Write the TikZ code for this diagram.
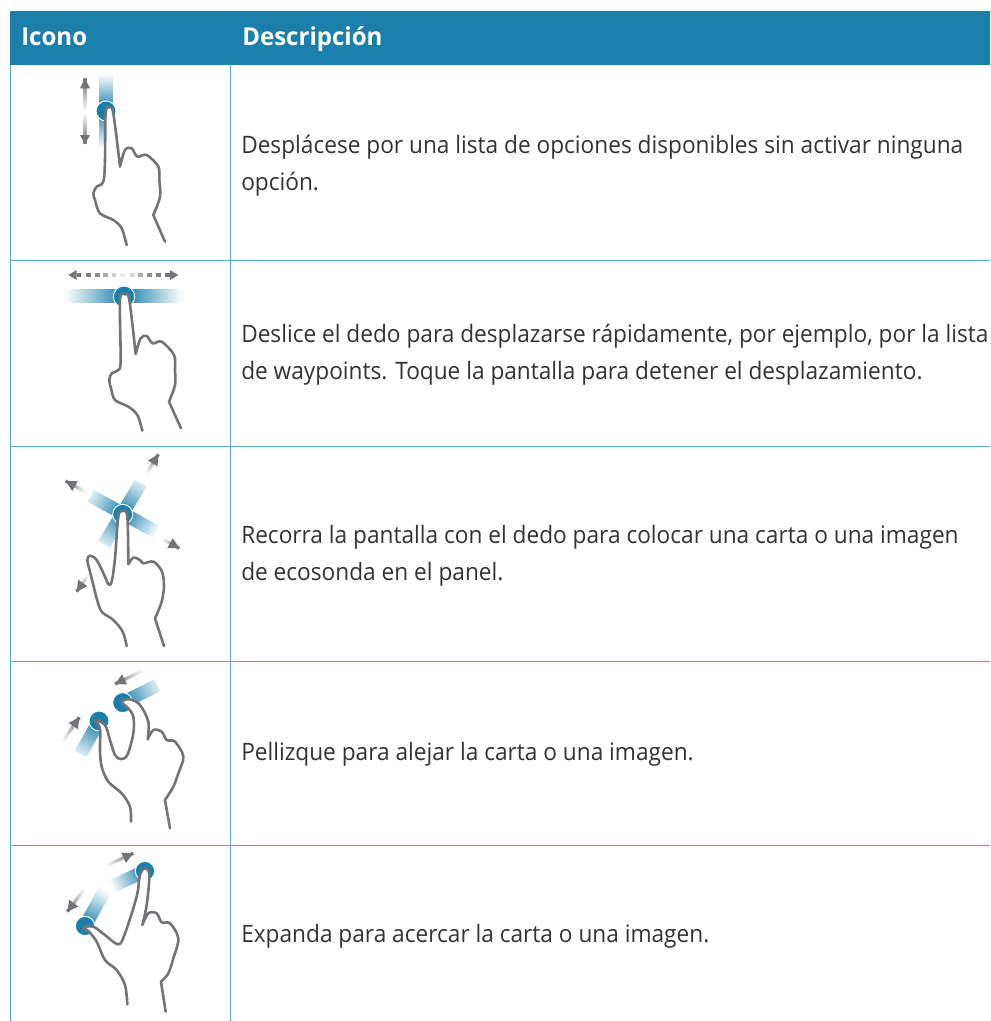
\documentclass[tikz,border=0pt]{standalone}
\usepackage{fontspec}
\setmainfont{Open Sans}[FakeStretch=0.944]
\newfontfamily\headfont{Open Sans}[FakeStretch=0.975,BoldFont={Open Sans Bold}]
\definecolor{hdr}{HTML}{1A7FAB}
\definecolor{rule}{HTML}{5DA9CB}
\definecolor{tap}{HTML}{1A7FAB}
\definecolor{ink}{HTML}{737477}
\definecolor{txt}{HTML}{333335}
\tikzset{
 x=0.75pt,y=-0.75pt,
 tablerule/.style={draw=rule,line width=0.65pt},
 handline/.style={draw=ink,line width=1.95pt,fill=white,line join=round,line cap=round},
 bodytext/.style={anchor=west,inner sep=0pt,align=left,text=txt,font=\fontsize{18}{27.75}\selectfont},
 headtext/.style={anchor=base west,inner sep=0pt,text=white,font=\headfont\bfseries\fontsize{18.5}{22}\selectfont},
 tapdot/.style={fill=tap,draw=white,line width=0.7pt},
 zoomed/.style={x=0.25pt,y=-0.25pt},
}
% offsets of the icon in use, px
\newcommand{\iconat}[2]{\def\iconx{#1}\def\icony{#2}}
% fading strip: from (x1,y1) to (x2,y2) in zoomed units, half width w, colours c1 c2
\newcommand{\fadestrip}[7]{%
 \pgfmathsetmacro{\stripang}{atan2(-((#4)-(#2)),(#3)-(#1))}%
 \pgfmathsetmacro{\striplen}{veclen((#3)-(#1),(#4)-(#2))*0.25}%
 \pgfmathsetmacro{\striphw}{(#5)*0.25}%
 \pgfmathsetmacro{\stripx}{\iconx*0.75+(#1)*0.25}%
 \pgfmathsetmacro{\stripy}{-\icony*0.75-(#2)*0.25}%
 \begin{scope}[transform canvas={shift={(\stripx pt,\stripy pt)},rotate=\stripang}]
 \pgftransformreset
 \shade[left color=#6,middle color=#6!65!#7,right color=#7] (0pt,-\striphw pt) rectangle (\striplen pt,\striphw pt);
 \end{scope}}
% grey arrow head with tip at (x2,y2), coming from (x1,y1), plus a fading shaft
\newcommand{\fadearrow}[4]{%
 \pgfmathsetmacro{\arrang}{atan2(-((#4)-(#2)),(#3)-(#1))}%
 \fadestrip{#1}{#2}{#3}{#4}{5}{white}{ink}%
 \fill[ink,shift={(#3,#4)},rotate=\arrang] (0,0) -- (-32,-17) -- (-32,17) -- cycle;}
\begin{document}
\begin{tikzpicture}
\useasboundingbox (0,0) rectangle (990,1021);
\clip (0,0) rectangle (990,1021);
\fill[white] (0,0) rectangle (990,1021);
% table
\fill[hdr] (10,11) rectangle (990,65);
\node[headtext] (h1) at (21,45) {Icono};
\node[headtext] (h2) at (242,45) {Descripción};
\coordinate (l0) at (10,65); \coordinate (l1) at (10,1021);
\coordinate (m0) at (230,65); \coordinate (m1) at (230,1021);
\draw[tablerule] (l0) -- (l1);
\draw[tablerule] (m0) -- (m1);
\foreach \yy in {260,446,661,845} \draw[tablerule] (10,\yy) -- (990,\yy);
% texts
\node[bodytext] (t1) at (241,166) {Desplácese por una lista de opciones disponibles sin activar ninguna\\opción.};
\node[bodytext] (t2) at (241,355) {Deslice el dedo para desplazarse rápidamente, por ejemplo, por la lista\\de waypoints. Toque la pantalla para detener el desplazamiento.};
\node[bodytext] (t3) at (241,556) {Recorra la pantalla con el dedo para colocar una carta o una imagen\\de ecosonda en el panel.};
\node[bodytext] (t4) at (241,754) {Pellizque para alejar la carta o una imagen.};
\node[bodytext] (t5) at (241,936) {Expanda para acercar la carta o una imagen.};

% icon 1
\iconat{50}{60}
\begin{scope}[shift={(50,60)},zoomed]
 \fadestrip{105}{155}{105}{55}{5}{white}{ink}
 \fadestrip{105}{155}{105}{250}{5}{white}{ink}
 \fill[ink] (105,55) -- (90,85) -- (120,85) -- cycle;
 \fill[ink] (105,253) -- (90,225) -- (120,225) -- cycle;
 \fadestrip{168}{150}{168}{42}{20}{tap}{white}
 \fadestrip{168}{150}{168}{262}{20}{tap}{white}
 \fill[tapdot] (168,153) circle (30);
 \draw[handline] plot[smooth,tension=.55] coordinates {(230,555) (215,505) (190,480) (150,460) (135,420) (130,400) (140,380) (160,365) (165,300) (167,160) (178,142) (190,160) (210,320)}
  -- plot[smooth,tension=.55] coordinates {(210,320) (225,270) (245,265) (262,290) (290,285) (325,320) (328,360) (330,410) (310,465)}
  -- (345,545);
\end{scope}

% icon 2
\iconat{50}{260}
\begin{scope}[shift={(50,260)},zoomed]
 \fadestrip{225}{108}{45}{108}{20}{tap}{white}
 \fadestrip{225}{108}{395}{108}{20}{tap}{white}
 \fill[ink] (55,45) -- (80,30) -- (80,60) -- cycle;
 \fill[ink] (385,45) -- (360,30) -- (360,60) -- cycle;
 \foreach \px/\op in {80/1,108/.9,135/.8,160/.6,185/.35,210/.12} \fill[ink,opacity=\op] (\px,40) rectangle +(14,10);
 \foreach \px/\op in {345/1,318/.9,292/.8,265/.6,240/.3} \fill[ink,opacity=\op] (\px,40) rectangle +(14,10);
 \fill[tapdot] (222,110) circle (32);
 \draw[handline] plot[smooth,tension=.55] coordinates {(277,512) (262,465) (235,440) (195,420) (183,385) (178,360) (185,340) (205,330) (212,300) (210,120) (225,103) (238,120) (257,282)}
  -- plot[smooth,tension=.55] coordinates {(257,282) (272,235) (290,228) (308,250) (335,245) (372,285) (375,330) (375,375) (357,425)}
  -- (393,505);
\end{scope}

% icon 3
\iconat{50}{445}
\begin{scope}[shift={(50,445)},zoomed]
 \fadestrip{218}{205}{122}{153}{20}{tap}{white!85!tap}
 \fadestrip{218}{205}{322}{262}{20}{tap}{white}
 \fadestrip{218}{205}{272}{115}{20}{tap}{white!85!tap}
 \fadestrip{218}{205}{162}{298}{20}{tap}{white!85!tap}
 \fadearrow{290}{85}{325}{28}
 \fadearrow{105}{140}{47}{108}
 \fadearrow{335}{280}{388}{310}
 \fadearrow{115}{390}{80}{440}
 \fill[tapdot] (218,208) circle (30);
 \draw[handline] plot[smooth,tension=.55] coordinates {(230,603) (218,560) (190,525) (155,500) (140,460) (130,420) (120,380) (112,345) (120,332) (140,345) (165,395) (175,418) (185,410) (195,340) (205,215) (218,198) (232,215) (235,358)}
  -- plot[smooth,tension=.55] coordinates {(235,358) (250,338) (270,345) (280,355) (310,350) (335,378) (342,420) (335,470) (315,520)}
  -- (342,603);
\end{scope}

% icon 4
\iconat{50}{660}
\begin{scope}[shift={(50,660)},zoomed]
 \fadestrip{147}{183}{92}{282}{20}{tap}{white!85!tap}
 \fadestrip{218}{128}{322}{76}{20}{tap}{white!85!tap}
 \fadearrow{38}{245}{88}{172}
 \fadearrow{278}{32}{195}{72}
 \fill[tapdot] (147,183) circle (30);
 \fill[tapdot] (218,128) circle (30);
 \draw[handline] plot[smooth,tension=.55] coordinates {(243,485) (240,440) (215,400) (175,365) (155,320) (150,270) (150,205) (135,180) (165,195) (180,240) (195,285) (212,297) (232,285) (250,220) (250,170) (235,145) (215,125) (240,118) (270,135) (295,185) (293,238)}
  -- plot[smooth,tension=.55] coordinates {(293,238) (310,210) (335,215) (350,240) (375,245) (400,290) (385,340) (370,380) (345,420)}
  -- (360,505);
\end{scope}

% icon 5
\iconat{50}{845}
\begin{scope}[shift={(50,845)},zoomed]
 \fadestrip{285}{78}{185}{125}{20}{tap}{white}
 \fadestrip{105}{243}{165}{135}{20}{tap}{white}
 \fadearrow{168}{62}{250}{25}
 \fadearrow{105}{130}{52}{200}
 \fill[tapdot] (285,78) circle (29);
 \fill[tapdot] (105,243) circle (29);
 \draw[handline] plot[smooth,tension=.55] coordinates {(232,478) (225,420) (200,375) (165,345) (140,290) (115,258) (100,248) (130,245) (165,270) (205,298) (225,265) (260,155) (270,90) (285,70) (298,90) (290,180) (277,240)}
  -- plot[smooth,tension=.55] coordinates {(277,240) (295,205) (320,205) (335,232) (360,235) (385,280) (370,340) (355,385) (333,410)}
  -- (347,500);
\end{scope}
\end{tikzpicture}
\end{document}
